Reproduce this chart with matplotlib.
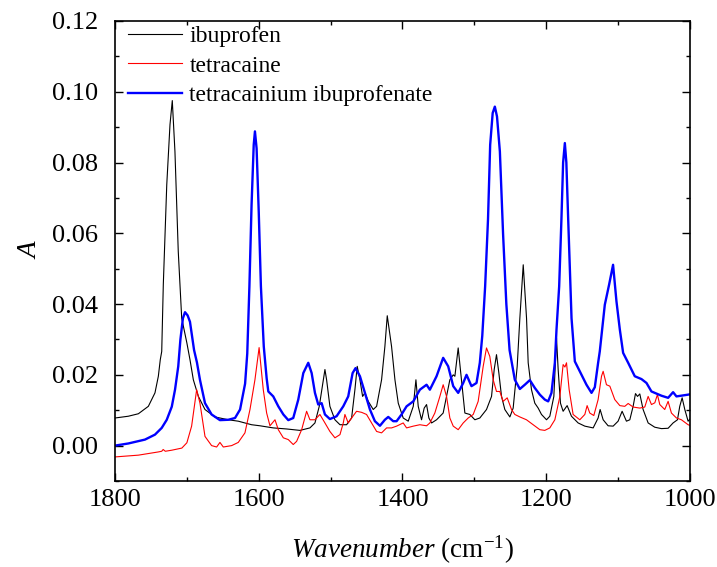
import matplotlib
matplotlib.use('Agg')
import matplotlib.pyplot as plt
from matplotlib.ticker import MultipleLocator

plt.rcParams['font.family'] = 'Liberation Serif'
plt.rcParams['mathtext.fontset'] = 'custom'
plt.rcParams['mathtext.rm'] = 'Liberation Serif'
plt.rcParams['mathtext.it'] = 'Liberation Serif:italic'

# ibuprofen (black)
ibu_wn = [1800, 1781.5, 1767.5, 1753.6, 1744.4, 1739.7, 1737, 1735, 1732.8, 1728, 1723.5, 1720.3,
          1716.6, 1712, 1707.2, 1700, 1695.7, 1691, 1684, 1674.8, 1661, 1642.4, 1628.5, 1610,
          1598.3, 1579.8, 1561.2, 1542.7, 1528.8, 1521.8, 1515.8, 1510.2, 1507.9, 1505.6, 1501,
          1494, 1487, 1477.8, 1470.8, 1466.2, 1463, 1459.2, 1455.5, 1452.3, 1447.6, 1440.7, 1436,
          1429.1, 1424.5, 1421.2, 1415.2, 1410.5, 1405.9, 1399, 1392, 1385, 1381.3, 1378.1, 1373.5,
          1369.8, 1366.5, 1363.3, 1359.5, 1352.6, 1343.4, 1334.1, 1329.4, 1327.1, 1322.5, 1317.9,
          1313.2, 1306.3, 1299.3, 1292.4, 1283.1, 1276.1, 1272.4, 1269.2, 1265.9, 1262.2, 1257.6,
          1250.6, 1246, 1240.4, 1236.7, 1232, 1227.4, 1225.1, 1220.5, 1215.9, 1211.2, 1206.6,
          1199.6, 1195, 1189.4, 1185.7, 1183.4, 1180.2, 1176.5, 1170.9, 1164.9, 1155.6, 1146.3,
          1134.7, 1127.8, 1125, 1120.8, 1113.9, 1106.9, 1100, 1094.4, 1088.4, 1083.7, 1079.1,
          1075.8, 1073, 1069.8, 1065.2, 1058.2, 1049, 1039.7, 1030.4, 1023.5, 1017.4, 1014.2,
          1010.9, 1007.2, 1002.6, 1000]
ibu_a = [0.0078, 0.0083, 0.009, 0.0111, 0.0149, 0.0196, 0.0243, 0.0266, 0.0455, 0.0737, 0.0907, 0.0975,
         0.0831, 0.0549, 0.036, 0.029, 0.0243, 0.0186, 0.0139, 0.0102, 0.0081, 0.0073, 0.0069, 0.0059,
         0.0056, 0.005, 0.0047, 0.0043, 0.005, 0.0064, 0.0111, 0.0186, 0.0215, 0.0186, 0.0111,
         0.0073, 0.0059, 0.0059, 0.0078, 0.0158, 0.0224, 0.0186, 0.0139, 0.0149, 0.0125, 0.0102, 0.0111,
         0.0186, 0.028, 0.0367, 0.028, 0.0186, 0.012, 0.0078, 0.0069, 0.0111, 0.0186, 0.0111, 0.0073,
         0.0106, 0.0116, 0.0078, 0.0064, 0.0073, 0.0092, 0.0186, 0.02, 0.0196, 0.0276, 0.0186,
         0.0092, 0.0088, 0.0073, 0.0078, 0.0102, 0.0139, 0.0215, 0.0257, 0.0205, 0.0139, 0.0102,
         0.0081, 0.0106, 0.0224, 0.036, 0.0511, 0.036, 0.0234, 0.0158, 0.012, 0.0106, 0.0088,
         0.0073, 0.0083, 0.0139, 0.0304, 0.0215, 0.012, 0.0097, 0.0113, 0.0083, 0.0064, 0.0055,
         0.005, 0.0078, 0.0102, 0.0073, 0.0056, 0.0055, 0.0069, 0.0097, 0.0069, 0.0073, 0.0111,
         0.0147, 0.0139, 0.0146, 0.0102, 0.0064, 0.0052, 0.0048, 0.0049, 0.0064, 0.0073, 0.0111,
         0.0135, 0.0102, 0.0069, 0.0075]

# tetracaine (red)
tet_wn = [1800, 1767.5, 1740, 1735, 1733, 1730, 1721, 1707, 1700, 1693.4, 1686.4, 1681.8, 1674.8,
          1665.6, 1658.6, 1654, 1649.3, 1637.7, 1628.5, 1619.2, 1612.2, 1605.3, 1599.5, 1593.7,
          1589, 1584.4, 1577.4, 1572.8, 1565.8, 1558.9, 1552, 1547.3, 1540.3, 1533.4, 1528.8,
          1521.8, 1514.9, 1507.9, 1501, 1494, 1487, 1482.4, 1480.1, 1475.5, 1470.8, 1463.9, 1456.9,
          1450, 1443, 1436, 1429.1, 1422.1, 1415.2, 1408.2, 1399, 1394.3, 1385, 1375.8, 1366.5,
          1361.9, 1355, 1348, 1343.4, 1338.7, 1334.1, 1329.4, 1322.5, 1315.5, 1308.6, 1301.6,
          1294.7, 1287.7, 1283.1, 1278.5, 1273.8, 1269.2, 1264.6, 1259.9, 1254.3, 1248.3, 1243.7,
          1236.7, 1227.5, 1218.2, 1208.9, 1202, 1195, 1188, 1181, 1176.5, 1174, 1171.8, 1168.1,
          1162.6, 1153.3, 1146.3, 1143.1, 1139.4, 1133.8, 1127.8, 1123.1, 1120.8, 1116.2, 1111.5,
          1104.6, 1097.6, 1090.7, 1086, 1079.1, 1069.8, 1062.9, 1058.2, 1053.6, 1048.9, 1045.3,
          1042, 1035.1, 1030.4, 1025.8, 1018.8, 1011.9, 1002.6, 1000]
tet_a = [-0.0032, -0.0027, -0.0018, -0.0016, -0.0011, -0.0016, -0.0013, -0.0007, 0.0008, 0.0055, 0.0158, 0.012, 0.0026,
         0.0, -0.0004, 0.0009, -0.0004, 0.0, 0.0009, 0.0036, 0.0102, 0.0186, 0.0277, 0.0158,
         0.0092, 0.0056, 0.0073, 0.0045, 0.0022, 0.0017, 0.0003, 0.0012, 0.0045, 0.0097, 0.0073,
         0.0073, 0.0088, 0.0064, 0.004, 0.0022, 0.0031, 0.0064, 0.0088, 0.0064, 0.0078, 0.0097, 0.0094,
         0.0088, 0.0064, 0.004, 0.0036, 0.005, 0.005, 0.0055, 0.0064, 0.005, 0.0055, 0.0059, 0.0056,
         0.0064, 0.0092, 0.0139, 0.0172, 0.0139, 0.0078, 0.0055, 0.0045, 0.0064, 0.0078, 0.0088,
         0.0125, 0.0224, 0.0276, 0.0252, 0.0186, 0.0153, 0.0153, 0.0125, 0.0135, 0.0102, 0.0088,
         0.0081, 0.0073, 0.0059, 0.0045, 0.0043, 0.005, 0.0073, 0.0139, 0.0229, 0.0222, 0.0234, 0.0158,
         0.0088, 0.0073, 0.0088, 0.0113, 0.0092, 0.0085, 0.013, 0.0196, 0.021, 0.0172, 0.0168,
         0.013, 0.0113, 0.0111, 0.0119, 0.0109, 0.0106, 0.0109, 0.0139, 0.0116, 0.0121, 0.0144,
         0.0116, 0.0102, 0.0125, 0.0092, 0.0078, 0.0073, 0.0059, 0.0057]

# tetracainium ibuprofenate (blue)
til_wn = [1800, 1781.5, 1758.3, 1744.4, 1735, 1728, 1721, 1716.5, 1712, 1709, 1705.5, 1702.6, 1699,
          1695.7, 1690, 1686, 1681.8, 1674.8, 1665.6, 1654, 1642.4, 1633, 1626, 1621.5, 1619, 1616,
          1613, 1610, 1607, 1605.3, 1603, 1600, 1597, 1593, 1589, 1586.7, 1579.8, 1572.8, 1565.8,
          1558.9, 1552, 1545, 1538, 1531.1, 1526.4, 1521.8, 1517.2, 1512.5, 1507.9, 1501, 1491.7,
          1482.4, 1475.5, 1469.4, 1465.3, 1459.2, 1452.3, 1445.3, 1438.4, 1431.4, 1424.5, 1419.8,
          1412.9, 1408.2, 1401.3, 1394.3, 1385, 1375.8, 1366.5, 1361.9, 1352.6, 1343.4, 1336.4,
          1329.4, 1322.5, 1315.5, 1310.9, 1304, 1297, 1292.4, 1289, 1285, 1281, 1278, 1274.5, 1271.5,
          1268.5, 1264.5, 1260, 1255.5, 1251, 1243.7, 1236.7, 1229.8, 1222.8, 1215.9, 1208.9, 1202,
          1197.3, 1192.7, 1188, 1185.7, 1182, 1178.8, 1176.5, 1174.1, 1172, 1169.5, 1164.8, 1160.2,
          1153.3, 1144, 1137, 1132.4, 1127.8, 1125.5, 1118.5, 1112.5, 1107, 1102.3, 1097.6, 1093,
          1086, 1076.8, 1067.5, 1060.5, 1053.6, 1046.6, 1039.7, 1030.4, 1023.5, 1018.8, 1011.9,
          1002.6, 1000]
til_a = [0.0, 0.0006, 0.0017, 0.0031, 0.005, 0.0073, 0.011, 0.0158, 0.0224, 0.030, 0.036, 0.0377, 0.0368,
         0.035, 0.027, 0.0235, 0.0186, 0.012, 0.0088, 0.0072, 0.0073, 0.0078, 0.0102, 0.0149, 0.0175, 0.026,
         0.045, 0.068, 0.085, 0.0888, 0.084, 0.066, 0.045, 0.028, 0.019, 0.0153, 0.0139, 0.0111, 0.0088,
         0.0072, 0.0078, 0.013, 0.0205, 0.0234, 0.0205, 0.0149, 0.0116, 0.012, 0.0088, 0.0075, 0.0083,
         0.0111, 0.0139, 0.0205, 0.0219, 0.0196, 0.0149, 0.0102, 0.0069, 0.0056, 0.0073, 0.0081,
         0.0069, 0.0069, 0.0088, 0.0111, 0.0125, 0.0158, 0.0172, 0.0158, 0.0196, 0.0248, 0.0224,
         0.0168, 0.0149, 0.0177, 0.02, 0.0168, 0.0177, 0.0234, 0.031, 0.045, 0.064, 0.085, 0.094, 0.0958,
         0.093, 0.0831, 0.0596, 0.040, 0.027, 0.0186, 0.016, 0.0172, 0.0185, 0.0163, 0.0144, 0.013,
         0.0125, 0.0149, 0.0234, 0.0328, 0.045, 0.0643, 0.08, 0.0855, 0.08, 0.0643, 0.036, 0.0238,
         0.021, 0.0172, 0.0149, 0.0165, 0.0234, 0.0266, 0.0398, 0.0455, 0.0511, 0.0408, 0.0328, 0.0262,
         0.0234, 0.0196, 0.0188, 0.0177, 0.0153, 0.0147, 0.0141, 0.0135, 0.0151, 0.0139, 0.0141,
         0.0144, 0.0145]

fig = plt.figure(figsize=(7.17, 5.67), dpi=100)
ax = fig.add_axes([0.1604, 0.1517, 0.8019, 0.8113])

ax.plot(ibu_wn, ibu_a, color='black', lw=0.8, label='ibuprofen')
ax.plot(tet_wn, tet_a, color='red', lw=0.8, label='tetracaine')
ax.plot(til_wn, til_a, color='blue', lw=1.7, label='tetracainium ibuprofenate')

ax.set_xlim(1800, 1000)
ax.set_ylim(-0.01, 0.12)
ax.set_xticks([1800, 1600, 1400, 1200, 1000])
ax.xaxis.set_minor_locator(MultipleLocator(100))
ax.set_yticks([0.0, 0.02, 0.04, 0.06, 0.08, 0.10, 0.12])
ax.set_yticklabels(['0.00', '0.02', '0.04', '0.06', '0.08', '0.10', '0.12'])
ax.yaxis.set_minor_locator(MultipleLocator(0.01))
ax.tick_params(which='both', direction='in', top=True, right=True, labelsize=19, width=1)
ax.tick_params(which='major', length=6)
ax.tick_params(which='minor', length=3)
ax.tick_params(axis='y', pad=12)
ax.tick_params(axis='x', pad=6)
for s in ax.spines.values():
    s.set_linewidth(1.2)

ax.set_xlabel(r'$\mathit{Wavenumber}$ (cm$^{-1}$)', fontsize=19.5, labelpad=16)
ax.set_ylabel('A', fontsize=19.5, style='italic', labelpad=6)

ax.legend(loc='upper left', bbox_to_anchor=(0.0185, 0.9945), frameon=False, fontsize=17,
          handlelength=2.3, handletextpad=0.3, labelspacing=0.33, borderpad=0.1, borderaxespad=0.0)

fig.savefig('out.png', dpi=100)
